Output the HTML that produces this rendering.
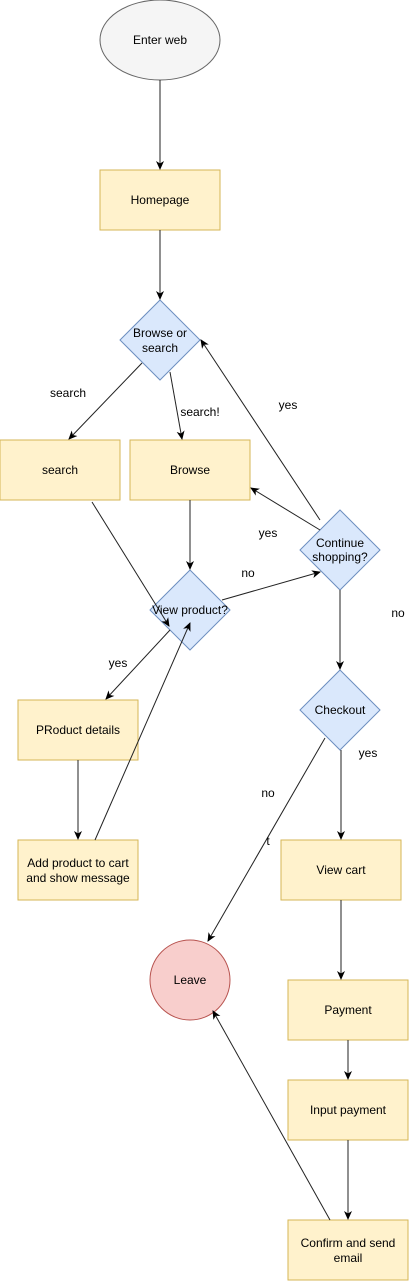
<!DOCTYPE html>
<html><head><meta charset="utf-8"><style>
html,body{margin:0;padding:0;background:#fff;}
svg{display:block;}
text{font-family:"Liberation Sans",Arial,sans-serif;font-size:12px;fill:#000;}
</style></head><body>
<svg width="419" height="1282" viewBox="0 0 419 1282" xmlns="http://www.w3.org/2000/svg">
<defs>
<marker id="a" markerWidth="10" markerHeight="10" refX="8" refY="5" orient="auto" markerUnits="userSpaceOnUse">
<path d="M0,1 L9,5 L0,9 L2.5,5 Z" fill="#000"/>
</marker>
</defs>
<ellipse cx="160" cy="40" rx="60" ry="40" fill="#f5f5f5" stroke="#666"/>
<g fill="#fff2cc" stroke="#d6b656">
<rect x="100" y="170" width="120" height="60"/>
<rect x="0" y="440" width="120" height="60"/>
<rect x="130" y="440" width="120" height="60"/>
<rect x="18" y="700" width="120" height="60"/>
<rect x="18" y="840" width="120" height="60"/>
<rect x="281" y="840" width="120" height="60"/>
<rect x="288" y="980" width="120" height="60"/>
<rect x="288" y="1080" width="120" height="60"/>
<rect x="288" y="1220" width="120" height="60"/>
</g>
<g fill="#dae8fc" stroke="#6c8ebf">
<polygon points="160,300 200,340 160,380 120,340"/>
<polygon points="190,570 230,610 190,650 150,610"/>
<polygon points="340,510 380,550 340,590 300,550"/>
<polygon points="340,670 380,710 340,750 300,710"/>
</g>
<circle cx="190" cy="980" r="40" fill="#f8cecc" stroke="#b85450"/>
<g stroke="#222" stroke-width="1" fill="none" marker-end="url(#a)">
<line x1="160" y1="80" x2="160" y2="169"/>
<line x1="160" y1="230" x2="160" y2="299"/>
<line x1="142" y1="363" x2="69" y2="439"/>
<line x1="170" y1="372" x2="182" y2="439"/>
<line x1="92" y1="502" x2="169" y2="626"/>
<line x1="190" y1="500" x2="190" y2="569"/>
<line x1="222" y1="600" x2="320" y2="572"/>
<line x1="320" y1="530" x2="251" y2="488"/>
<line x1="320" y1="520" x2="201" y2="340"/>
<line x1="340" y1="590" x2="340" y2="669"/>
<line x1="170" y1="630" x2="106" y2="699"/>
<line x1="78" y1="760" x2="78" y2="839"/>
<line x1="95" y1="840" x2="190" y2="623"/>
<line x1="325" y1="738" x2="208" y2="941"/>
<line x1="341" y1="750" x2="341" y2="839"/>
<line x1="341" y1="900" x2="341" y2="979"/>
<line x1="348" y1="1040" x2="348" y2="1079"/>
<line x1="348" y1="1140" x2="348" y2="1219"/>
<line x1="330" y1="1220" x2="213" y2="1011"/>
</g>
<g text-anchor="middle">
<text x="160" y="44" fill="#333">Enter web</text>
<text x="160" y="204">Homepage</text>
<text x="160" y="337">Browse or</text>
<text x="160" y="352">search</text>
<text x="60" y="474">search</text>
<text x="190" y="474">Browse</text>
<text x="190" y="614">View product?</text>
<text x="340" y="547">Continue</text>
<text x="340" y="561">shopping?</text>
<text x="340" y="714">Checkout</text>
<text x="78" y="734">PRoduct details</text>
<text x="78" y="867">Add product to cart</text>
<text x="78" y="882">and show message</text>
<text x="341" y="874">View cart</text>
<text x="190" y="984">Leave</text>
<text x="348" y="1014">Payment</text>
<text x="348" y="1114">Input payment</text>
<text x="348" y="1247">Confirm and send</text>
<text x="348" y="1262">email</text>
<text x="68" y="397">search</text>
<text x="200" y="416">search!</text>
<text x="288" y="409">yes</text>
<text x="268" y="537">yes</text>
<text x="248" y="577">no</text>
<text x="398" y="617">no</text>
<text x="118" y="667">yes</text>
<text x="268" y="797">no</text>
<text x="268" y="845" font-size="9">t</text>
<text x="368" y="757">yes</text>
</g>
</svg>
</body></html>
